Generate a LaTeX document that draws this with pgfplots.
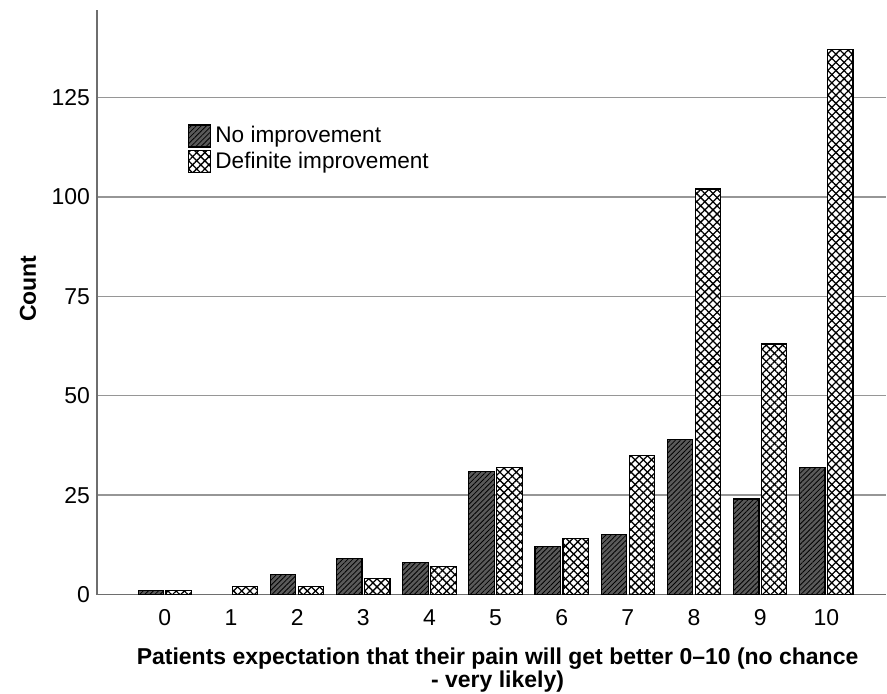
\documentclass[border=0pt]{standalone}
\usepackage{fontspec}
\setmainfont{Liberation Sans}
\usepackage{pgfplots}
\pgfplotsset{compat=1.18}
\usetikzlibrary{patterns.meta}
\definecolor{barDark}{RGB}{90,90,90}
\definecolor{gridGray}{RGB}{150,150,150}
\definecolor{axisGray}{RGB}{110,110,110}
\begin{document}
\begin{tikzpicture}
\begin{axis}[
  scale only axis, width=395pt, height=292.5pt,
  xmin=-1.027, xmax=10.906, ymin=0, ymax=147,
  ybar=1.25pt, bar width=12.75pt,
  axis lines*=left,
  xtick={0,...,10}, ytick={0,25,...,125},
  major tick length=0pt,
  ymajorgrids, grid style={gridGray, line width=0.75pt},
  axis line style={axisGray, line width=0.75pt},
  tick label style={font=\fontsize{11.5}{13}\selectfont},
  xticklabel style={yshift=-4pt},
  /pgf/number format/assume math mode=true,
  xlabel={Patients expectation that their pain will get better 0–10 (no chance\\- very likely)},
  xlabel style={font=\bfseries\fontsize{11.5}{11.5}\selectfont, align=center, at={(axis description cs:0.5076,-0.0906)}, anchor=north, inner sep=0pt},
  ylabel={Count},
  ylabel style={font=\bfseries\fontsize{11.5}{13}\selectfont, at={(axis description cs:-0.0873,0.523)}, anchor=center},
  legend style={at={(axis description cs:0.1152,0.8085)}, anchor=north west, draw=none, fill=none, inner sep=0pt, font=\fontsize{11.3}{13}\selectfont, row sep=-1pt},
  legend cell align=left,
  legend image code/.code={\draw[#1] (0pt,-5.5pt) rectangle (11pt,5.5pt);},
]
\addplot[draw=black, line width=0.6pt, fill=barDark,
  postaction={pattern={Lines[angle=45,distance=1.8pt,line width=0.4pt]}, pattern color=black}]
  coordinates {(0,1) (2,5) (3,9) (4,8) (5,31) (6,12) (7,15) (8,39) (9,24) (10,32)};
\addlegendentry{No improvement}
\addplot[draw=black, line width=0.6pt, fill=white,
  postaction={pattern={Lines[angle=45,distance=2.9pt,line width=0.65pt]}, pattern color=black},
  postaction={pattern={Lines[angle=-45,distance=2.9pt,line width=0.65pt]}, pattern color=black}]
  coordinates {(0,1) (1,2) (2,2) (3,4) (4,7) (5,32) (6,14) (7,35) (8,102) (9,63) (10,137)};
\addlegendentry{Definite improvement}
\end{axis}
\path ([xshift=-48.5pt,yshift=-49.5pt]current axis.south west) rectangle ([yshift=5pt]current axis.north east);
\end{tikzpicture}
\end{document}
